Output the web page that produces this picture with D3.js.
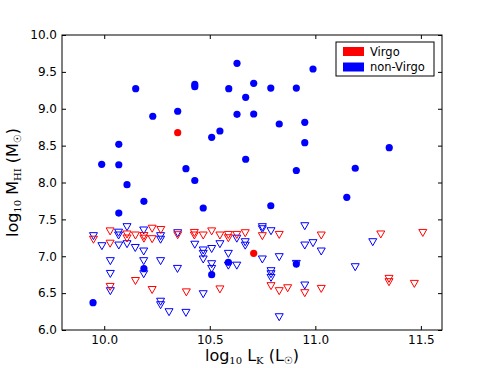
<!DOCTYPE html>
<html>
<head>
<meta charset="utf-8">
<script src="https://cdn.jsdelivr.net/npm/d3@7"></script>
<style>
	body { margin: 0; background: #fff; }
	svg { display: block; font-family: 'DejaVu Sans', sans-serif; }
</style>
</head>
<body>
<svg id="chart" width="491" height="368"></svg>
<script>
// detections (filled circles)
const nonVirgoDetX = [10.149, 10.429, 10.429, 10.629, 10.708, 10.590, 10.670, 10.230, 10.348, 10.629, 10.708, 10.509, 10.548, 10.069, 9.988, 10.069, 10.387, 10.670, 10.429, 10.989, 10.789, 10.910, 10.829, 10.950, 10.950, 11.350, 10.910, 11.189, 10.108, 10.188, 10.069, 10.469, 10.789, 11.149, 10.188, 10.509, 10.588, 9.947, 10.910]
const nonVirgoDetY = [9.272, 9.330, 9.300, 9.616, 9.345, 9.272, 9.155, 8.898, 8.966, 8.925, 8.929, 8.613, 8.698, 8.518, 8.247, 8.241, 8.187, 8.315, 8.027, 9.539, 9.281, 9.281, 8.793, 8.816, 8.540, 8.472, 8.163, 8.193, 7.970, 7.745, 7.586, 7.654, 7.685, 7.799, 6.831, 6.750, 6.918, 6.370, 6.895]
const virgoDetX = [10.348, 10.708]
const virgoDetY = [8.675, 7.040]

// upper limits (open triangles)
const nonVirgoLimX = [9.949, 9.989, 10.068, 10.068, 10.069, 10.108, 10.108, 10.147, 10.187, 10.187, 10.029, 10.187, 10.029, 10.187, 10.029, 10.267, 10.267, 10.267, 10.267, 10.267, 10.307, 10.348, 10.347, 10.387, 10.429, 10.469, 10.469, 10.469, 10.469, 10.509, 10.509, 10.509, 10.548, 10.588, 10.588, 10.628, 10.628, 10.668, 10.668, 10.749, 10.749, 10.790, 10.950, 10.950, 10.989, 11.028, 10.749, 10.829, 10.910, 10.790, 10.790, 10.790, 10.950, 10.829, 11.272, 11.189]
const nonVirgoLimY = [7.275, 7.139, 7.322, 7.284, 7.148, 7.397, 7.166, 7.115, 7.352, 7.067, 6.936, 6.936, 6.763, 6.759, 6.529, 7.275, 7.227, 6.936, 6.386, 6.339, 6.244, 7.315, 6.831, 6.235, 7.159, 7.081, 7.035, 6.959, 6.488, 7.101, 6.895, 6.831, 7.166, 7.035, 6.875, 7.241, 6.875, 7.193, 7.146, 7.397, 7.369, 7.342, 7.410, 7.148, 7.180, 7.067, 6.959, 6.990, 6.899, 6.800, 6.759, 6.709, 6.606, 6.176, 7.193, 6.854]
const virgoLimX = [9.949, 10.028, 10.028, 10.108, 10.108, 10.148, 10.188, 10.188, 10.227, 10.227, 10.268, 10.348, 10.427, 10.427, 10.469, 10.509, 10.548, 10.588, 10.588, 10.628, 10.668, 10.749, 10.829, 11.028, 11.310, 11.509, 10.148, 10.028, 10.227, 10.389, 10.548, 10.790, 10.829, 10.869, 10.950, 11.028, 11.349, 11.349, 11.469]
const virgoLimY = [7.227, 7.340, 7.173, 7.298, 7.243, 7.284, 7.277, 7.241, 7.376, 7.234, 7.359, 7.288, 7.319, 7.284, 7.284, 7.340, 7.284, 7.292, 7.247, 7.292, 7.315, 7.275, 7.292, 7.284, 7.298, 7.319, 6.667, 6.587, 6.545, 6.513, 6.553, 6.597, 6.529, 6.569, 6.502, 6.560, 6.696, 6.651, 6.628]

const xTicks = [10.0, 10.5, 11.0, 11.5]
const yTicks = [6.0, 6.5, 7.0, 7.5, 8.0, 8.5, 9.0, 9.5, 10.0]
const legendLabels = ['Virgo', 'non-Virgo']
const legendColors = ['#ff0000', '#0000ff']

const mLeft = 62, mRight = 442, mTop = 35, mBottom = 330
const svg = d3.select('#chart')

const xScale = d3.scaleLinear().domain([9.8, 11.6]).range([mLeft, mRight])
const yScale = d3.scaleLinear().domain([6.0, 10.0]).range([mBottom, mTop])

function zip(xs, ys){
	return xs.map(function(x, i){ return {x: x, y: ys[i]} })
}

function drawCircles(xs, ys, color){
	svg.append('g').selectAll('circle')
		.data(zip(xs, ys))
		.join('circle')
		.attr('cx', function(d){ return xScale(d.x) })
		.attr('cy', function(d){ return yScale(d.y) })
		.attr('r', 3.6)
		.attr('fill', color)
}

function drawTriangles(xs, ys, color){
	svg.append('g').selectAll('path')
		.data(zip(xs, ys))
		.join('path')
		.attr('transform', function(d){ return 'translate(' + xScale(d.x) + ',' + yScale(d.y) + ')' })
		.attr('d', 'M-4,-3.3L4,-3.3L0,3.7Z')
		.attr('fill', 'none')
		.attr('stroke', color)
		.attr('stroke-width', 1)
}

drawCircles(nonVirgoDetX, nonVirgoDetY, '#0000ff')
drawCircles(virgoDetX, virgoDetY, '#ff0000')
drawTriangles(nonVirgoLimX, nonVirgoLimY, '#0000ff')
drawTriangles(virgoLimX, virgoLimY, '#ff0000')

// axes, ticks pointing inwards on all four sides
const xAxisB = d3.axisBottom(xScale).tickValues(xTicks).tickFormat(d3.format('.1f')).tickSizeInner(-4).tickSizeOuter(0).tickPadding(5)
const xAxisT = d3.axisTop(xScale).tickValues(xTicks).tickFormat('').tickSizeInner(-4).tickSizeOuter(0)
const yAxisL = d3.axisLeft(yScale).tickValues(yTicks).tickFormat(d3.format('.1f')).tickSizeInner(-4).tickSizeOuter(0).tickPadding(5)
const yAxisR = d3.axisRight(yScale).tickValues(yTicks).tickFormat('').tickSizeInner(-4).tickSizeOuter(0)

svg.append('g').attr('transform', 'translate(0,' + mBottom + ')').call(xAxisB)
svg.append('g').attr('transform', 'translate(0,' + mTop + ')').call(xAxisT)
svg.append('g').attr('transform', 'translate(' + mLeft + ',0)').call(yAxisL)
svg.append('g').attr('transform', 'translate(' + mRight + ',0)').call(yAxisR)

svg.selectAll('.domain').remove()
svg.selectAll('.tick line').attr('stroke', '#000')
svg.selectAll('.tick text').attr('font-size', '12px').attr('font-family', 'DejaVu Sans').attr('fill', '#000')

svg.append('rect')
	.attr('x', mLeft).attr('y', mTop)
	.attr('width', mRight - mLeft).attr('height', mBottom - mTop)
	.attr('fill', 'none').attr('stroke', '#000').attr('stroke-width', 1)

// axis labels
const xLabel = svg.append('text')
	.attr('x', (mLeft + mRight) / 2).attr('y', 361)
	.attr('text-anchor', 'middle').attr('font-size', '16px')
xLabel.append('tspan').text('log')
xLabel.append('tspan').attr('dy', 3).attr('font-size', '10px').attr('font-family', 'DejaVu Serif').text('10')
xLabel.append('tspan').attr('dy', -3).text(' L')
xLabel.append('tspan').attr('dy', 3).attr('font-size', '10px').attr('font-family', 'DejaVu Serif').text('K')
xLabel.append('tspan').attr('dy', -3).text(' (L')
xLabel.append('tspan').attr('dy', 3).attr('font-size', '10px').text('\u2609')
xLabel.append('tspan').attr('dy', -3).text(')')

const yLabel = svg.append('text')
	.attr('transform', 'translate(18,' + ((mTop + mBottom) / 2) + ') rotate(-90)')
	.attr('text-anchor', 'middle').attr('font-size', '16px')
yLabel.append('tspan').text('log')
yLabel.append('tspan').attr('dy', 3).attr('font-size', '10px').attr('font-family', 'DejaVu Serif').text('10')
yLabel.append('tspan').attr('dy', -3).text(' M')
yLabel.append('tspan').attr('dy', 3).attr('font-size', '10px').attr('font-family', 'DejaVu Serif').text('HI')
yLabel.append('tspan').attr('dy', -3).text(' (M')
yLabel.append('tspan').attr('dy', 3).attr('font-size', '10px').text('\u2609')
yLabel.append('tspan').attr('dy', -3).text(')')

// legend
const legend = svg.append('g')
legend.append('rect')
	.attr('x', 336).attr('y', 42).attr('width', 98).attr('height', 34)
	.attr('fill', '#fff').attr('stroke', '#000').attr('stroke-width', 1)
legendLabels.forEach(function(label, i){
	legend.append('rect')
		.attr('x', 343).attr('y', 47 + i * 15.5).attr('width', 21).attr('height', 9)
		.attr('fill', legendColors[i])
	legend.append('text')
		.attr('x', 370).attr('y', 55.5 + i * 15.5)
		.attr('font-size', '11.5px')
		.text(label)
})
</script>
</body>
</html>
